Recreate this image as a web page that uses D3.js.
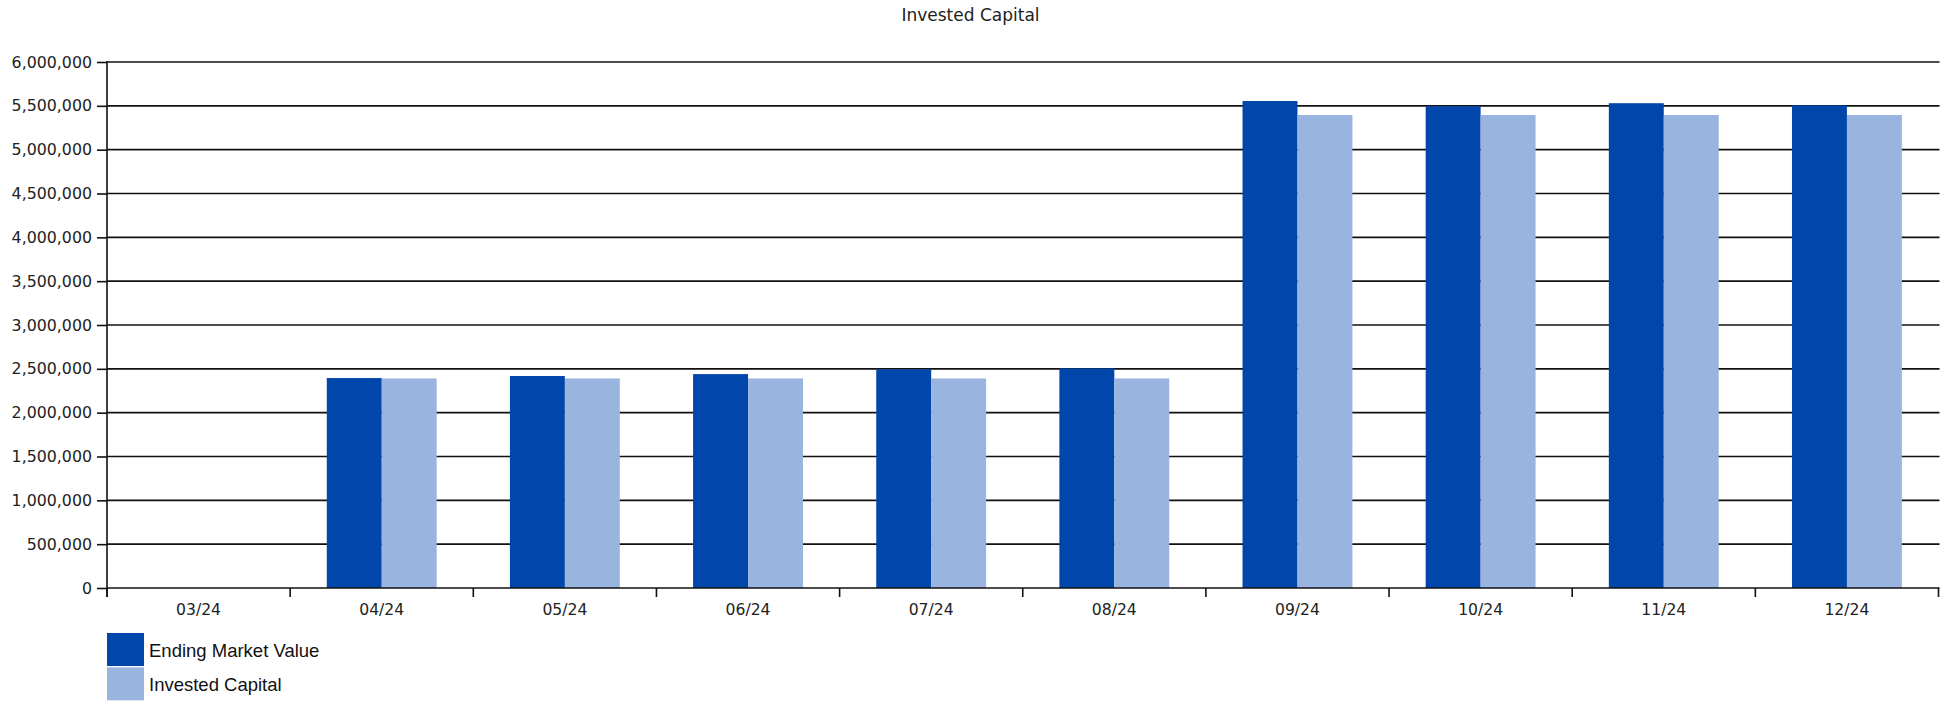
<!DOCTYPE html>
<html>
<head>
<meta charset="utf-8">
<script src="https://cdn.jsdelivr.net/npm/d3@7"></script>
<style>
  html, body { margin: 0; padding: 0; background: #fff; }
  svg { display: block; }
</style>
</head>
<body>
<svg id="chart" width="1941" height="702"></svg>
<script>
const title = "Invested Capital";
const categories = ["03/24", "04/24", "05/24", "06/24", "07/24", "08/24", "09/24", "10/24", "11/24", "12/24"];
const seriesNames = ["Ending Market Value", "Invested Capital"];
const endingMarketValue = [0, 2395000, 2418000, 2440000, 2495000, 2505000, 5555000, 5495000, 5530000, 5505000];
const investedCapital = [0, 2390000, 2390000, 2390000, 2390000, 2390000, 5395000, 5395000, 5395000, 5395000];
const yTicks = [0, 500000, 1000000, 1500000, 2000000, 2500000, 3000000, 3500000, 4000000, 4500000, 5000000, 5500000, 6000000];
const colors = ["#0046AB", "#99B4DE"];

(function () {
const svg = d3.select("#chart");
const pLeft = 107, pRight = 1938.5, pTop = 62, pBottom = 588;

const x = d3.scaleBand().domain(categories).range([pLeft, pRight]).paddingInner(0).paddingOuter(0);
const xSub = d3.scaleBand().domain(seriesNames).range([x.bandwidth() * 0.2, x.bandwidth() * 0.8]);
const y = d3.scaleLinear().domain([0, 6000000]).range([pBottom, pTop]);
const fmt = d3.format(",");

// title
svg.append("text")
  .attr("x", 970.5).attr("y", 20.5)
  .attr("text-anchor", "middle")
  .attr("font-family", "DejaVu Sans")
  .attr("font-size", 17)
  .attr("fill", "#222")
  .text(title);

// gridlines
svg.append("g").selectAll("line")
  .data(yTicks.filter(d => d > 0))
  .join("line")
  .attr("x1", pLeft).attr("x2", pRight + 1)
  .attr("y1", d => y(d)).attr("y2", d => y(d))
  .attr("stroke", "#111").attr("stroke-width", 1.6);

// bars
const data = categories.map((c, i) => ({ cat: c, vals: [endingMarketValue[i], investedCapital[i]] }));
const groups = svg.append("g").selectAll("g")
  .data(data).join("g")
  .attr("transform", d => `translate(${x(d.cat)},0)`);
groups.selectAll("rect")
  .data(d => d.vals.map((v, j) => ({ name: seriesNames[j], v, j })))
  .join("rect")
  .attr("x", d => xSub(d.name))
  .attr("width", xSub.bandwidth())
  .attr("y", d => y(d.v))
  .attr("height", d => y(0) - y(d.v))
  .attr("fill", d => colors[d.j]);

// y axis
const yAxis = d3.axisLeft(y).tickValues(yTicks).tickFormat(fmt).tickSize(10).tickPadding(5);
const gy = svg.append("g").attr("transform", `translate(${pLeft},0)`).call(yAxis);
gy.select(".domain").remove();
gy.selectAll(".tick line").attr("stroke", "#111").attr("stroke-width", 1.6);
gy.selectAll(".tick text")
  .attr("font-family", "DejaVu Sans").attr("font-size", 15.8).attr("fill", "#222");
svg.append("line")
  .attr("x1", pLeft).attr("x2", pLeft).attr("y1", pTop - 1).attr("y2", pBottom + 9)
  .attr("stroke", "#111").attr("stroke-width", 1.6);

// x axis
svg.append("line")
  .attr("x1", pLeft).attr("x2", pRight + 1).attr("y1", pBottom).attr("y2", pBottom)
  .attr("stroke", "#111").attr("stroke-width", 1.6);
const bounds = categories.map(c => x(c)).concat([pRight]);
svg.append("g").selectAll("line")
  .data(bounds).join("line")
  .attr("x1", d => d).attr("x2", d => d)
  .attr("y1", pBottom).attr("y2", pBottom + 9)
  .attr("stroke", "#111").attr("stroke-width", 1.6);
svg.append("g").selectAll("text")
  .data(categories).join("text")
  .attr("x", d => x(d) + x.bandwidth() / 2)
  .attr("y", 615)
  .attr("text-anchor", "middle")
  .attr("font-family", "DejaVu Sans").attr("font-size", 15.6).attr("fill", "#222")
  .text(d => d);

// legend
const legend = svg.append("g").selectAll("g")
  .data(seriesNames).join("g")
  .attr("transform", (d, i) => `translate(107, ${633 + i * 34.3})`);
legend.append("rect")
  .attr("width", 37).attr("height", 33)
  .attr("fill", (d, i) => colors[i]);
legend.append("text")
  .attr("x", 42).attr("y", 23.5)
  .attr("font-family", "Liberation Sans").attr("font-size", 18.5).attr("fill", "#111")
  .text(d => d);
})();
</script>
</body>
</html>
